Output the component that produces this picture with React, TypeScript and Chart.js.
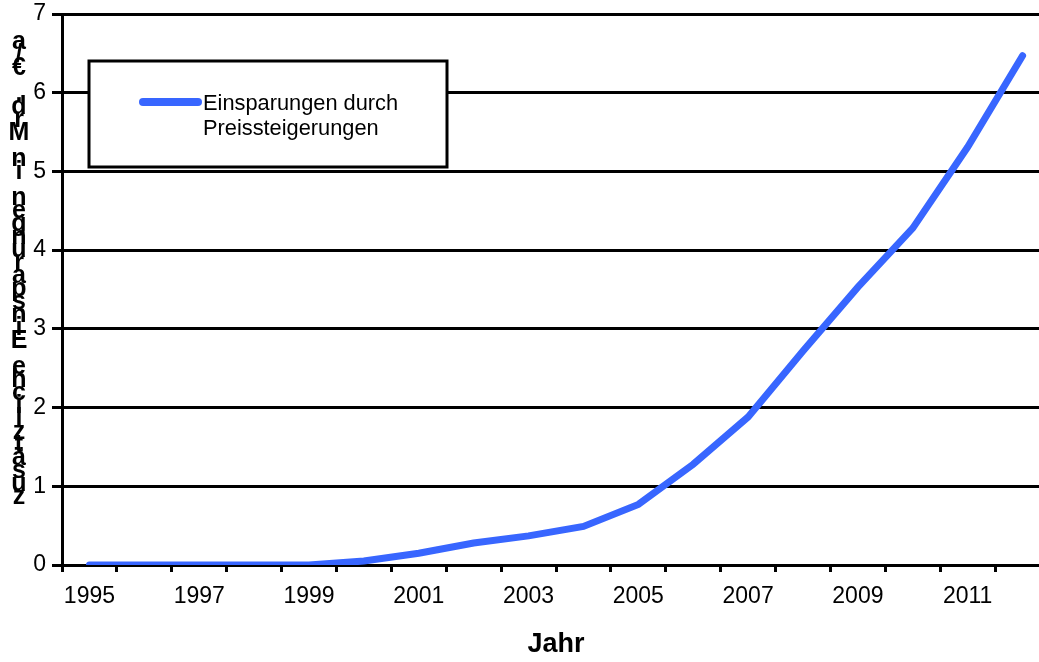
import React, { useEffect, useRef } from "react";
import { Chart, registerables } from "chart.js";

Chart.register(...registerables);

const years: string[] = [
  "1995", "1996", "1997", "1998", "1999", "2000", "2001", "2002", "2003",
  "2004", "2005", "2006", "2007", "2008", "2009", "2010", "2011", "2012",
];
const savings: number[] = [
  0, 0, 0, 0, 0, 0.05, 0.15, 0.28, 0.37, 0.49, 0.77, 1.28, 1.88, 2.72, 3.53, 4.28, 5.31, 6.47,
];
const seriesLabel: string[] = ["Einsparungen durch", "Preissteigerungen"];
const xTitle = "Jahr";
const yTitle = "zusätzliche Einsparungen in Mrd. €/a";
const yTicks: number[] = [0, 1, 2, 3, 4, 5, 6, 7];

const BLUE = "#3866FF";
const FONT = "'Liberation Sans', Arial, sans-serif";

const overlayPlugin = {
  id: "overlay",
  afterDraw(chart: any) {
    const ctx = chart.ctx;
    ctx.save();
    // legend box
    ctx.fillStyle = "#ffffff";
    ctx.fillRect(89, 61, 358, 106);
    ctx.strokeStyle = "#000000";
    ctx.lineWidth = 3;
    ctx.strokeRect(89, 61, 358, 106);
    ctx.strokeStyle = BLUE;
    ctx.lineWidth = 8;
    ctx.lineCap = "round";
    ctx.beginPath();
    ctx.moveTo(143, 102);
    ctx.lineTo(198, 102);
    ctx.stroke();
    ctx.fillStyle = "#000000";
    ctx.font = `21.8px ${FONT}`;
    ctx.textBaseline = "alphabetic";
    ctx.textAlign = "left";
    ctx.fillText(seriesLabel[0], 203, 110);
    ctx.fillText(seriesLabel[1], 203, 135);
    // stacked y title
    ctx.font = `bold 25px ${FONT}`;
    ctx.textAlign = "center";
    ctx.textBaseline = "bottom";
    const chars = Array.from(yTitle);
    const bottom = 510;
    const top = 55;
    const step = (bottom - top) / (chars.length - 1);
    chars.forEach((c, i) => {
      ctx.fillText(c, 19, bottom - i * step);
    });
    ctx.restore();
  },
};

export default function App() {
  const ref = useRef<HTMLCanvasElement | null>(null);
  useEffect(() => {
    document.body.style.overflow = "hidden";
    document.documentElement.style.overflow = "hidden";
    const chart = new Chart(ref.current as HTMLCanvasElement, {
      type: "line",
      data: {
        labels: years,
        datasets: [
          {
            label: seriesLabel.join(" "),
            data: savings,
            borderColor: BLUE,
            backgroundColor: BLUE,
            borderWidth: 7,
            pointRadius: 0,
            tension: 0,
            borderCapStyle: "round",
            borderJoinStyle: "miter",
          },
        ],
      },
      options: {
        animation: false,
        responsive: false,
        maintainAspectRatio: false,
        layout: { padding: { left: 0, right: 10, top: 14, bottom: 0 } },
        plugins: { legend: { display: false }, tooltip: { enabled: false } },
        scales: {
          x: {
            type: "category",
            offset: true,
            grid: {
              offset: true,
              drawOnChartArea: false,
              drawTicks: true,
              tickLength: 7,
              tickWidth: 3,
              tickColor: "#000000",
            },
            border: { display: true, color: "#000000", width: 3 },
            ticks: {
              autoSkip: false,
              maxRotation: 0,
              color: "#000000",
              padding: 11,
              font: { family: FONT, size: 23 },
              callback: (_v: any, i: number) => (i % 2 === 0 ? years[i] : ""),
            },
            title: {
              display: true,
              text: xTitle,
              color: "#000000",
              font: { family: FONT, size: 27, weight: "bold" },
              padding: { top: 0, bottom: 1 },
            },
            afterFit: (s: any) => {
              s.height = 97;
              s.paddingLeft = 0;
              s.paddingRight = 0;
            },
          },
          y: {
            min: 0,
            max: 7,
            ticks: {
              stepSize: 1,
              color: "#000000",
              padding: 6,
              font: { family: FONT, size: 23 },
              callback: (v: any) => (yTicks.includes(v) ? String(v) : ""),
            },
            grid: {
              color: "#000000",
              lineWidth: 3,
              drawTicks: true,
              tickLength: 10,
              tickColor: "#000000",
            },
            border: { display: true, color: "#000000", width: 3 },
            afterFit: (s: any) => {
              s.width = 62;
              s.paddingTop = 0;
              s.paddingBottom = 0;
            },
          },
        },
      },
      plugins: [overlayPlugin],
    });
    return () => chart.destroy();
  }, []);
  return (
    <div style={{ position: "absolute", left: 0, top: 0, width: 1060, height: 662 }}>
      <canvas ref={ref} width={1060} height={662} style={{ width: 1060, height: 662 }} />
    </div>
  );
}
